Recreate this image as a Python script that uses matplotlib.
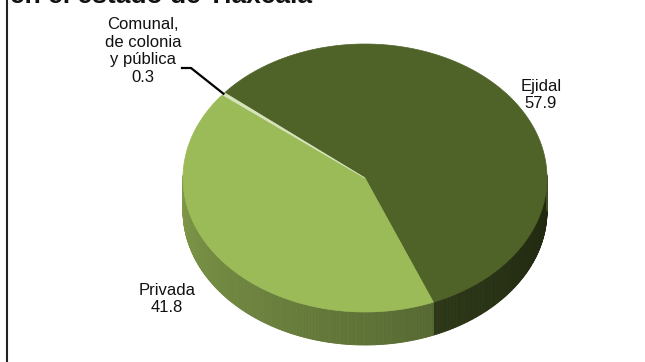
import numpy as np
import matplotlib.pyplot as plt
from matplotlib.patches import Polygon
from matplotlib.lines import Line2D
from matplotlib.colors import to_rgb

plt.rcParams['font.family'] = ['Liberation Sans', 'DejaVu Sans']

# superficie por tipo de propiedad (%)
labels = ['Ejidal', 'Privada', 'Comunal,\nde colonia\ny pública']
values = [57.9, 41.8, 0.3]
top_colors = ['#4f6228', '#9bbb59', '#d7e4bd']
title = 'en el estado de Tlaxcala'

# pastel 3d: elipse superior y grosor, en pixeles
cx, cy = 365, 178
rx, ry = 182, 134
depth = 33
start = 140.5


def proj(theta_deg, dz=0.0, r=1.0):
    t = np.radians(theta_deg)
    return cx + r * rx * np.cos(t), cy - r * ry * np.sin(t) + dz


def shade(color, f):
    return np.clip(np.array(to_rgb(color)) * f, 0, 1)


fig = plt.figure(figsize=(6.45, 3.62), dpi=100)
ax = fig.add_axes([0, 0, 1, 1])
ax.set_xlim(0, 645)
ax.set_ylim(362, 0)
ax.axis('off')

fracs = np.array(values) / np.sum(values) * 360.0
ends = start - np.cumsum(fracs)
starts = ends + fracs

# cara lateral, en tiras para el degradado
for lo, hi, col in zip(ends, starts, top_colors):
    ts = np.linspace(lo, hi, max(int((hi - lo) * 2), 2))
    for a0, a1 in zip(ts[:-1], ts[1:]):
        if np.sin(np.radians(a0)) > 0.02 and np.sin(np.radians(a1)) > 0.02:
            continue
        m = np.mod(0.5 * (a0 + a1), 360)
        f = 0.82 - 0.42 * (m - 180) / 180 if m >= 180 else 0.82
        p = [proj(a0), proj(a1), proj(a1, depth), proj(a0, depth)]
        ax.add_patch(Polygon(p, closed=True, facecolor=shade(col, f),
                             edgecolor=shade(col, f), linewidth=0.6))

# cara superior
for lo, hi, col in zip(ends, starts, top_colors):
    ts = np.linspace(lo, hi, max(int((hi - lo) * 2), 3))
    pts = [(cx, cy)] + [proj(t) for t in ts]
    ax.add_patch(Polygon(pts, closed=True, facecolor=col, edgecolor=col,
                         linewidth=0.5))

# etiquetas
label_pos = [(541, 95), (167, 299), (143, 51)]
for lab, val, (x, y) in zip(labels, values, label_pos):
    ax.text(x, y, f'{lab}\n{val}', ha='center', va='center', fontsize=12,
            linespacing=1.2, color='#111111')

# linea guia para la rebanada pequena
mid = 0.5 * (ends[2] + starts[2])
ex, ey = proj(mid)
ax.add_line(Line2D([182, 191, ex], [68, 68, ey], color='black', linewidth=1.6))

ax.text(10, 3, title, ha='left', va='baseline', fontsize=19,
        fontweight='bold', color='#111111')
ax.add_line(Line2D([6.5, 6.5], [0, 362], color='#222222', linewidth=1.5))

fig.savefig('out.png', dpi=100)
